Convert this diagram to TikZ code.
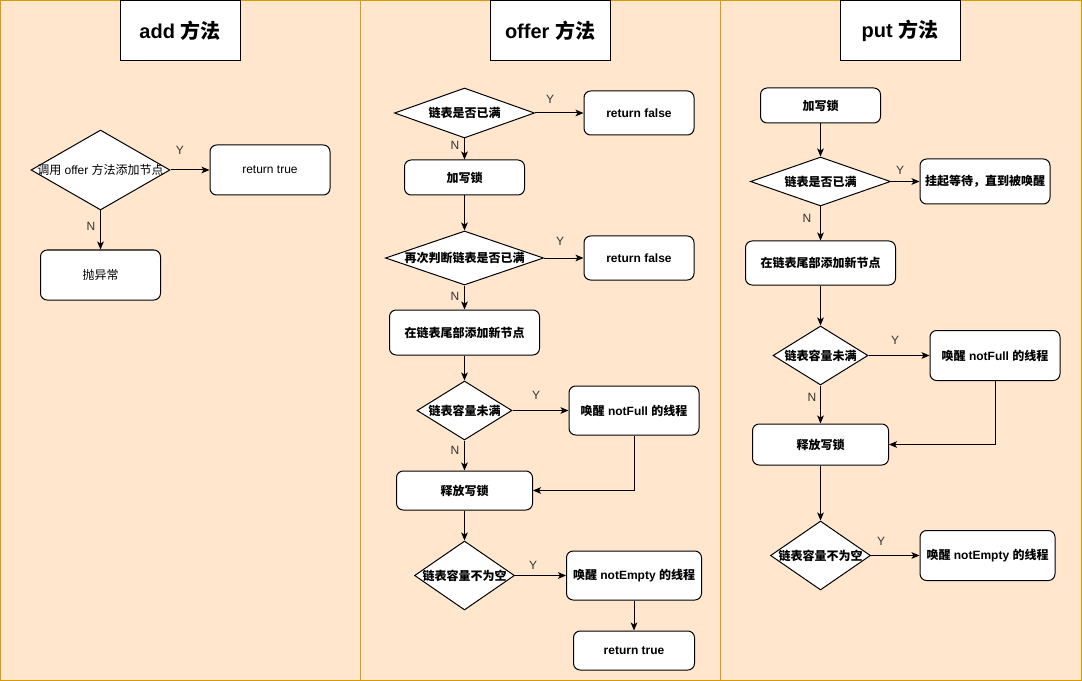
\documentclass[tikz,border=0pt]{standalone}
\usepackage{fontspec}
\setmainfont{Liberation Sans}
\newfontfamily\cjkfont{Noto Sans CJK SC}
\newcommand\zh[1]{{\cjkfont #1}}
\usetikzlibrary{shapes.geometric,arrows.meta}
\definecolor{lane}{HTML}{FFE6CC}
\definecolor{laneborder}{HTML}{D79B00}
\definecolor{lbl}{HTML}{333333}
\begin{document}
\begin{tikzpicture}[x=0.75pt,y=-0.75pt,
  sz/.style 2 args={minimum width=#1*0.75pt, minimum height=#2*0.75pt},
  lanebox/.style={draw=laneborder, fill=lane, line width=0.75pt},
  titlebox/.style={draw=black, fill=white, line width=0.75pt, inner sep=0pt, font=\fontsize{15}{18}\selectfont\bfseries},
  box/.style={draw=black, fill=white, rounded corners=5pt, inner sep=0pt, align=center, line width=0.75pt, font=\fontsize{9}{11}\selectfont},
  boxb/.style={box, font=\fontsize{9}{11}\selectfont\bfseries},
  dia/.style={draw=black, fill=white, diamond, inner sep=0pt, line width=0.75pt},
  txt/.style={inner sep=0pt, align=center, font=\fontsize{9}{11}\selectfont},
  txtb/.style={txt, font=\fontsize{9}{11}\selectfont\bfseries},
  arr/.style={draw=black, line width=0.75pt, -{Stealth[length=6pt,width=5pt,inset=1.5pt]}},
  yn/.style={text=lbl, inner sep=0pt, font=\fontsize{9}{11}\selectfont}
]
\useasboundingbox (0,0) rectangle (1082,681);
% lanes
\draw[lanebox] (0.5,0.5) rectangle (360,680.5);
\draw[lanebox] (360,0.5) rectangle (720,680.5);
\draw[lanebox] (720,0.5) rectangle (1081.5,680.5);
\node[titlebox, sz={120}{60}] (t1) at (180,30.5) {add \zh{方法}};
\node[titlebox, sz={120}{60}] (t2) at (550,30.5) {offer \zh{方法}};
\node[titlebox, sz={120}{60}] (t3) at (900,30.5) {put \zh{方法}};

% ---- add column
\node[dia, sz={139}{80}] (ad) at (100.5,170) {};
\node[txt] (adt) at (ad) {\zh{调用} offer \zh{方法添加节点}};
\node[box, sz={120}{50}] (art) at (270,170) {return true};
\node[box, sz={120}{50}] (aex) at (100.5,275) {\zh{抛异常}};
\draw[arr] (ad.east) -- (art.west);
\draw[arr] (ad.south) -- (aex.north);
\node[yn] (ay) at (180,150) {Y};
\node[yn] (an) at (91,226) {N};

% ---- offer column
\node[dia, sz={140}{50}] (m1) at (464.5,113) {};
\node[txtb] (m1t) at (m1) {\zh{链表是否已满}};
\node[boxb, sz={110}{44}] (mf1) at (639,113) {return false};
\node[boxb, sz={120}{35}] (mlock) at (464.5,177.5) {\zh{加写锁}};
\node[dia, sz={158}{54}] (m2) at (464.5,258) {};
\node[txtb] (m2t) at (m2) {\zh{再次判断链表是否已满}};
\node[boxb, sz={110}{44}] (mf2) at (639,258) {return false};
\node[boxb, sz={150}{45}] (madd) at (464.5,332.5) {\zh{在链表尾部添加新节点}};
\node[dia, sz={95}{59}] (m3) at (464.5,410.5) {};
\node[txtb] (m3t) at (m3) {\zh{链表容量未满}};
\node[boxb, sz={130}{49}] (mnf) at (634,410.5) {\zh{唤醒} notFull \zh{的线程}};
\node[boxb, sz={136}{39}] (mrel) at (464.5,490.5) {\zh{释放写锁}};
\node[dia, sz={100}{69}] (m4) at (464.5,575.5) {};
\node[txtb] (m4t) at (m4) {\zh{链表容量不为空}};
\node[boxb, sz={135}{49}] (mne) at (634,575.5) {\zh{唤醒} notEmpty \zh{的线程}};
\node[boxb, sz={121}{39}] (mrt) at (634,650.5) {return true};
\draw[arr] (m1.east) -- (mf1.west);
\draw[arr] (m1.south) -- (mlock.north);
\draw[arr] (mlock.south) -- (m2.north);
\draw[arr] (m2.east) -- (mf2.west);
\draw[arr] (m2.south) -- (madd.north);
\draw[arr] (madd.south) -- (m3.north);
\draw[arr] (m3.east) -- (mnf.west);
\draw[arr] (m3.south) -- (mrel.north);
\draw[arr] (mnf.south) |- (mrel.east);
\draw[arr] (mrel.south) -- (m4.north);
\draw[arr] (m4.east) -- (mne.west);
\draw[arr] (mne.south) -- (mrt.north);
\node[yn] (my1) at (550,99) {Y};
\node[yn] (mn1) at (455,145) {N};
\node[yn] (my2) at (560,241) {Y};
\node[yn] (mn2) at (455,296) {N};
\node[yn] (my3) at (536,395) {Y};
\node[yn] (mn3) at (455,450) {N};
\node[yn] (my4) at (533,565) {Y};

% ---- put column
\node[boxb, sz={120}{35}] (rlock) at (820.5,105.5) {\zh{加写锁}};
\node[dia, sz={140}{49}] (r1) at (820.5,181.5) {};
\node[txtb] (r1t) at (r1) {\zh{链表是否已满}};
\node[boxb, sz={130}{45}] (rwait) at (985,181.5) {\zh{挂起等待，直到被唤醒}};
\node[boxb, sz={150}{44}] (radd) at (820.5,263) {\zh{在链表尾部添加新节点}};
\node[dia, sz={95}{59}] (r2) at (820.5,355.5) {};
\node[txtb] (r2t) at (r2) {\zh{链表容量未满}};
\node[boxb, sz={130}{50}] (rnf) at (995,355.5) {\zh{唤醒} notFull \zh{的线程}};
\node[boxb, sz={136}{41}] (rrel) at (820.5,444.5) {\zh{释放写锁}};
\node[dia, sz={100}{69}] (r3) at (820.5,555.5) {};
\node[txtb] (r3t) at (r3) {\zh{链表容量不为空}};
\node[boxb, sz={135}{50}] (rne) at (987.5,555.5) {\zh{唤醒} notEmpty \zh{的线程}};
\draw[arr] (rlock.south) -- (r1.north);
\draw[arr] (r1.east) -- (rwait.west);
\draw[arr] (r1.south) -- (radd.north);
\draw[arr] (radd.south) -- (r2.north);
\draw[arr] (r2.east) -- (rnf.west);
\draw[arr] (r2.south) -- (rrel.north);
\draw[arr] (rnf.south) |- (rrel.east);
\draw[arr] (rrel.south) -- (r3.north);
\draw[arr] (r3.east) -- (rne.west);
\node[yn] (ry1) at (900,170) {Y};
\node[yn] (rn1) at (807,218) {N};
\node[yn] (ry2) at (895,340) {Y};
\node[yn] (rn2) at (812,397) {N};
\node[yn] (ry3) at (881,541) {Y};
\end{tikzpicture}
\end{document}
